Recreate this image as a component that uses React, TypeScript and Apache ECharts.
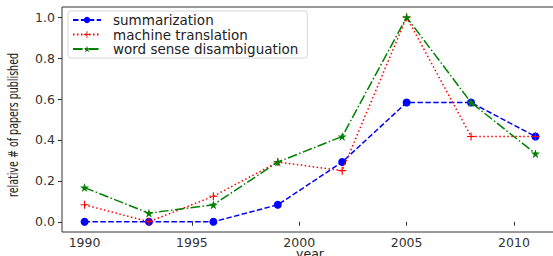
import React, { useEffect, useRef } from "react";
import * as echarts from "echarts";

const years = [1990, 1993, 1996, 1999, 2002, 2005, 2008, 2011];
const summarization = [0, 0, 0, 0.083, 0.292, 0.583, 0.583, 0.417];
const machineTranslation = [0.083, 0, 0.125, 0.292, 0.25, 1.0, 0.417, 0.417];
const wsd = [0.167, 0.042, 0.083, 0.292, 0.417, 1.0, 0.583, 0.333];
const xTicks = [1990, 1995, 2000, 2005, 2010];
const yTicks = [0, 0.2, 0.4, 0.6, 0.8, 1.0];
const seriesNames = ["summarization", "machine translation", "word sense disambiguation"];
const yAxisTitle = "relative # of papers published";
const xAxisTitle = "year";

const PLUS = "path://M4.3 0H5.7V4.3H10V5.7H5.7V10H4.3V5.7H0V4.3H4.3Z";
const STAR =
  "path://M50 0L61.23 34.55L97.55 34.55L68.17 55.9L79.39 90.45L50 69.1L20.61 90.45L31.83 55.9L2.45 34.55L38.77 34.55Z";

export default function App() {
  const ref = useRef<HTMLDivElement>(null);
  useEffect(() => {
    if (!ref.current) return;
    const chart = echarts.init(ref.current, null, { renderer: "svg" });
    const font = "DejaVu Sans";
    const toPairs = (vals: number[]) => years.map((y, i) => [y, vals[i]]);
    chart.setOption({
      animation: false,
      backgroundColor: "#ffffff",
      grid: {
        left: 62,
        top: 7,
        right: -5,
        bottom: 24,
        outerBoundsMode: "none",
        containLabel: false,
        show: true,
        borderColor: "#333",
        borderWidth: 1,
        backgroundColor: "transparent",
      },
      graphic: [
        {
          type: "text",
          x: 13,
          y: 125,
          rotation: Math.PI / 2,
          scaleX: 0.68,
          style: {
            text: yAxisTitle,
            fontFamily: font,
            fontSize: 14,
            fill: "#222",
            align: "center",
            verticalAlign: "middle",
          },
        },
        {
          type: "text",
          x: 310,
          y: 253,
          style: {
            text: xAxisTitle,
            fontFamily: font,
            fontSize: 12.5,
            lineHeight: 10,
            fill: "#222",
            align: "center",
            verticalAlign: "middle",
          },
        },
      ],
      legend: {
        orient: "vertical",
        left: 68,
        top: 11,
        padding: [2, 9, 2, 4],
        itemWidth: 28,
        itemHeight: 8,
        itemGap: 0.5,
        borderColor: "#d6d6d6",
        borderWidth: 1,
        borderRadius: 3,
        backgroundColor: "#fff",
        data: seriesNames,
        textStyle: {
          fontFamily: font,
          fontSize: 13.5,
          color: "#222",
          lineHeight: 12,
          padding: [0, 0, 0, 7],
        },
      },
      xAxis: {
        type: "value",
        min: 1988.95,
        max: 2012.05,
        axisLine: { show: false },
        splitLine: { show: false },
        axisTick: {
          show: true,
          length: 4,
          lineStyle: { color: "#333" },
          customValues: xTicks,
        },
        axisLabel: {
          fontFamily: font,
          fontSize: 12.5,
          lineHeight: 12,
          color: "#333",
          margin: 4,
          customValues: xTicks,
          formatter: (v: number) => String(v),
        },
      },
      yAxis: {
        type: "value",
        min: -0.05,
        max: 1.05,
        axisLine: { show: false },
        splitLine: { show: false },
        axisTick: {
          show: true,
          length: 4,
          lineStyle: { color: "#333" },
          customValues: yTicks,
        },
        axisLabel: {
          fontFamily: font,
          fontSize: 12.5,
          color: "#333",
          margin: 7,
          customValues: yTicks,
          formatter: (v: number) => v.toFixed(1),
        },
      },
      series: [
        {
          name: seriesNames[0],
          type: "line",
          data: toPairs(summarization),
          symbol: "circle",
          symbolSize: 8,
          color: "#0000ff",
          lineStyle: { width: 1.5, type: [5.5, 2.4], color: "#0000ff" },
          itemStyle: { color: "#0000ff" },
          z: 2,
        },
        {
          name: seriesNames[1],
          type: "line",
          data: toPairs(machineTranslation),
          symbol: PLUS,
          symbolSize: 8,
          color: "#ff0000",
          lineStyle: { width: 1.5, type: [1.5, 2.5], color: "#ff0000" },
          itemStyle: { color: "#ff0000" },
          z: 3,
        },
        {
          name: seriesNames[2],
          type: "line",
          data: toPairs(wsd),
          symbol: STAR,
          symbolSize: 9,
          color: "#008000",
          lineStyle: { width: 1.5, type: [9.6, 2.4, 1.5, 2.4], color: "#008000" },
          itemStyle: { color: "#008000" },
          z: 4,
        },
      ],
    });
    return () => chart.dispose();
  }, []);
  return (
    <div
      ref={ref}
      style={{ position: "fixed", left: 0, top: 0, width: 553, height: 256 }}
    />
  );
}
